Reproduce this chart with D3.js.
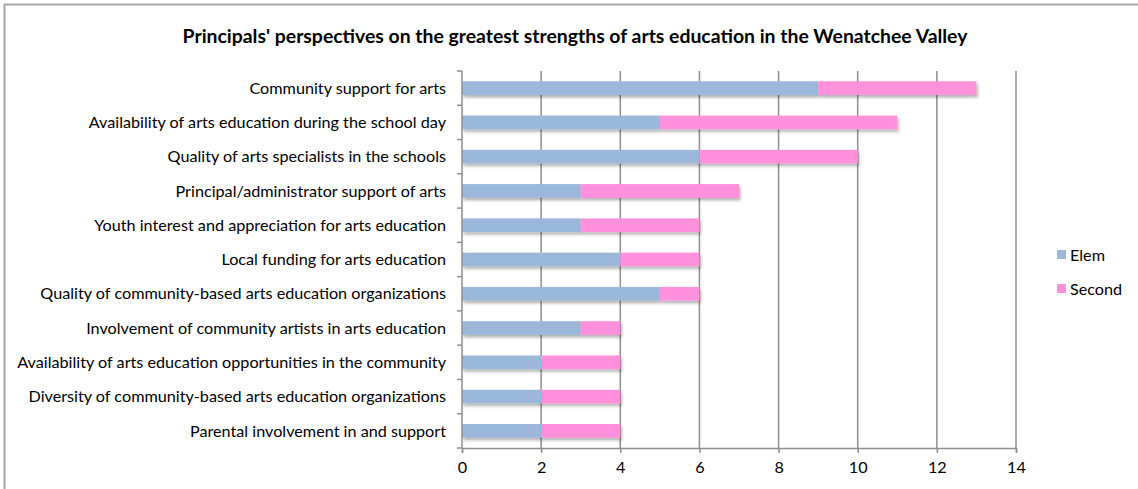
<!DOCTYPE html>
<html>
<head>
<meta charset="utf-8">
<script src="https://cdn.jsdelivr.net/npm/d3@7"></script>
<style>
  html, body { margin: 0; padding: 0; background: #fff; }
  svg { display: block; }
  text { font-family: Lato, "Open Sans", sans-serif; fill: #000; }
</style>
</head>
<body>
<svg id="chart" width="1138" height="489"></svg>
<script>
// Strengths named by principals, top to bottom
const categories = [
  "Community support for arts",
  "Availability of arts education during the school day",
  "Quality of arts specialists in the schools",
  "Principal/administrator support of arts",
  "Youth interest and appreciation for arts education",
  "Local funding for arts education",
  "Quality of community-based arts education organizations",
  "Involvement of community artists in arts education",
  "Availability of arts education opportunities in the community",
  "Diversity of community-based arts education organizations",
  "Parental involvement in and support"
];
const elem   = [9, 5, 6, 3, 3, 4, 5, 3, 2, 2, 2];
const second = [4, 6, 4, 4, 3, 2, 1, 1, 2, 2, 2];
const seriesNames = ["Elem", "Second"];
const xTicks = [0, 2, 4, 6, 8, 10, 12, 14];
const colors = { Elem: "#9bb8da", Second: "#ff91dc" };

const svg = d3.select("#chart");
const W = 1138, H = 489;
const plot = { left: 462, right: 1016, top: 71, bottom: 448 };
const labelSize = 16.2;

// Outer chart frame
svg.append("rect")
  .attr("x", 4.5).attr("y", 4.5)
  .attr("width", W + 10).attr("height", H + 10)
  .attr("fill", "none").attr("stroke", "#a6a6a6").attr("stroke-width", 2);

// Title
svg.append("text")
  .attr("x", 575).attr("y", 43)
  .attr("text-anchor", "middle")
  .attr("font-size", 19.4).attr("font-weight", "bold")
  .text("Principals'  perspectives on the greatest strengths of arts education in the Wenatchee Valley");

const x = d3.scaleLinear().domain([0, 14]).range([plot.left, plot.right]);
const y = d3.scaleBand().domain(categories).range([plot.top, plot.bottom]).paddingInner(0.6).paddingOuter(0.3);
const yBand = d3.scaleBand().domain(categories).range([plot.top, plot.bottom]);

// Drop shadow for bars
const defs = svg.append("defs");
const f = defs.append("filter").attr("id", "shadow")
  .attr("x", "-5%").attr("y", "-30%").attr("width", "115%").attr("height", "190%");
f.append("feDropShadow").attr("dx", 1.5).attr("dy", 2.5)
  .attr("stdDeviation", 1.8).attr("flood-color", "#000").attr("flood-opacity", 0.3);

// Vertical gridlines
svg.append("g").selectAll("line")
  .data(xTicks.slice(1))
  .join("line")
  .attr("x1", d => x(d)).attr("x2", d => x(d))
  .attr("y1", plot.top).attr("y2", plot.bottom)
  .attr("stroke", "#8e8e8e").attr("stroke-width", 1.5);

// Stacked bars
const rows = categories.map((c, i) => ({ cat: c, Elem: elem[i], Second: second[i] }));
const stacked = d3.stack().keys(seriesNames)(rows);

svg.append("g").selectAll("g")
  .data(stacked)
  .join("g")
  .attr("fill", s => colors[s.key])
  .attr("filter", "url(#shadow)")
  .selectAll("rect")
  .data(s => s)
  .join("rect")
  .attr("x", d => x(d[0]))
  .attr("width", d => x(d[1]) - x(d[0]))
  .attr("y", d => y(d.data.cat))
  .attr("height", y.bandwidth());

// X axis
const xAxis = svg.append("g")
  .attr("transform", `translate(0,${plot.bottom})`)
  .call(d3.axisBottom(x).tickValues(xTicks).tickSize(5).tickPadding(8).tickFormat(d3.format("d")));
xAxis.select(".domain").attr("stroke", "#8e8e8e").attr("stroke-width", 1.5);
xAxis.selectAll(".tick line").attr("stroke", "#8e8e8e").attr("stroke-width", 1.5);
xAxis.selectAll(".tick text").attr("font-size", labelSize).attr("font-family", "Lato, 'Open Sans', sans-serif").attr("fill", "#000");

// Y axis line and tick marks between categories
const yAxisG = svg.append("g");
yAxisG.append("line")
  .attr("x1", plot.left).attr("x2", plot.left)
  .attr("y1", plot.top).attr("y2", plot.bottom)
  .attr("stroke", "#8e8e8e").attr("stroke-width", 1.5);
const boundaries = categories.map(c => yBand(c)).concat([plot.bottom]);
yAxisG.selectAll("line.tk")
  .data(boundaries)
  .join("line").attr("class", "tk")
  .attr("x1", plot.left - 5).attr("x2", plot.left)
  .attr("y1", d => d).attr("y2", d => d)
  .attr("stroke", "#8e8e8e").attr("stroke-width", 1.5);

// Category labels
svg.append("g").selectAll("text")
  .data(categories)
  .join("text")
  .attr("x", plot.left - 16)
  .attr("y", d => yBand(d) + yBand.bandwidth() / 2)
  .attr("dy", "0.35em")
  .attr("text-anchor", "end")
  .attr("font-size", labelSize)
  .text(d => d);

// Legend
const legend = svg.append("g").selectAll("g")
  .data(seriesNames)
  .join("g")
  .attr("transform", (d, i) => `translate(1057,${255 + i * 34})`);
legend.append("rect")
  .attr("x", 0).attr("y", -5).attr("width", 9).attr("height", 9)
  .attr("fill", d => colors[d]);
legend.append("text")
  .attr("x", 13).attr("y", 0).attr("dy", "0.35em")
  .attr("font-size", labelSize)
  .text(d => d);
</script>
</body>
</html>
